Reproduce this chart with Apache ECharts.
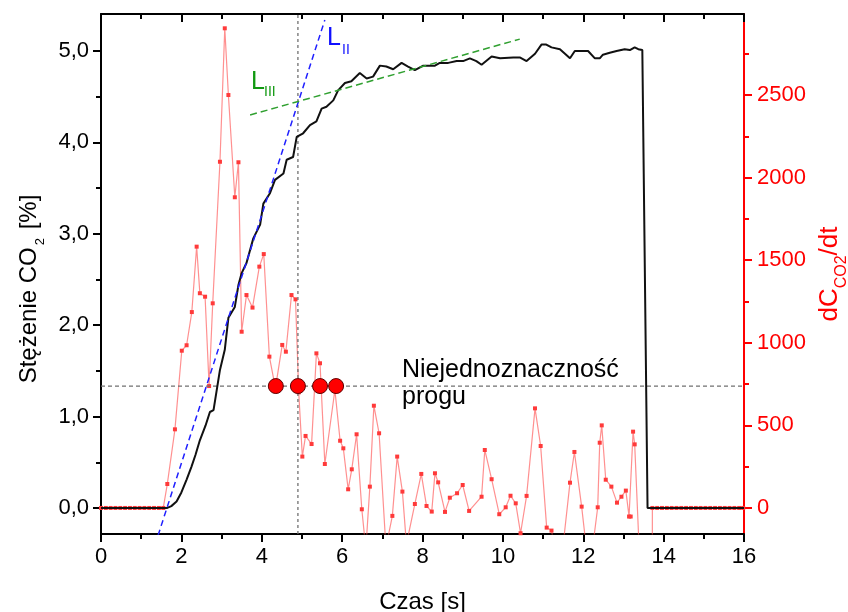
<!DOCTYPE html>
<html><head><meta charset="utf-8">
<script src="https://cdn.jsdelivr.net/npm/echarts@6/dist/echarts.min.js"></script>
<style>html,body{margin:0;padding:0;background:#fff}#c{width:848px;height:612px}</style>
</head><body><div id="c"></div>
<script>
// CO2 concentration [%] vs time [s]
const timeCO2 = [0, 1.65, 1.75, 1.88, 2.0, 2.13, 2.25, 2.35, 2.46, 2.6, 2.71, 2.8, 2.84, 2.96, 3.08, 3.17, 3.33, 3.42, 3.5, 3.62, 3.79, 3.96, 4.04, 4.2, 4.33, 4.54, 4.62, 4.78, 4.87, 5.03, 5.2, 5.36, 5.49, 5.61, 5.78, 5.9, 6.07, 6.23, 6.44, 6.61, 6.77, 6.94, 7.1, 7.27, 7.48, 7.64, 7.81, 8.02, 8.31, 8.43, 8.64, 8.85, 9.01, 9.18, 9.34, 9.47, 9.72, 9.93, 10.26, 10.42, 10.59, 10.8, 10.96, 11.08, 11.21, 11.42, 11.67, 11.79, 12.12, 12.29, 12.41, 12.49, 12.66, 12.83, 13.03, 13.16, 13.28, 13.37, 13.47, 13.6, 16];
const co2 = [0, 0, 0.02, 0.07, 0.17, 0.31, 0.45, 0.58, 0.74, 0.9, 1.05, 1.07, 1.18, 1.51, 1.73, 2.08, 2.2, 2.44, 2.57, 2.68, 2.95, 3.1, 3.33, 3.44, 3.59, 3.66, 3.81, 3.84, 4.06, 4.1, 4.19, 4.23, 4.37, 4.39, 4.46, 4.57, 4.65, 4.67, 4.76, 4.7, 4.72, 4.84, 4.83, 4.8, 4.87, 4.83, 4.79, 4.84, 4.84, 4.87, 4.87, 4.89, 4.89, 4.92, 4.89, 4.85, 4.94, 4.92, 4.93, 4.93, 4.89, 4.97, 5.07, 5.07, 5.04, 5.02, 4.92, 5.0, 5.0, 4.92, 4.92, 4.96, 4.98, 5.0, 5.02, 5.01, 5.04, 5.02, 5.01, 0, 0];

// dC/dt (right axis)
const timeRate = [0, 0.12, 0.24, 0.36, 0.48, 0.6, 0.72, 0.84, 0.96, 1.08, 1.2, 1.32, 1.44, 1.55, 1.65, 1.84, 2.01, 2.13, 2.26, 2.38, 2.46, 2.59, 2.69, 2.78, 2.96, 3.08, 3.17, 3.33, 3.42, 3.5, 3.62, 3.77, 3.94, 4.05, 4.19, 4.34, 4.51, 4.6, 4.74, 4.84, 4.92, 5.01, 5.09, 5.24, 5.36, 5.45, 5.57, 5.82, 5.95, 6.03, 6.15, 6.24, 6.36, 6.49, 6.59, 6.69, 6.79, 6.92, 7.09, 7.25, 7.37, 7.5, 7.6, 7.81, 7.97, 8.1, 8.23, 8.31, 8.39, 8.56, 8.68, 8.86, 9.0, 9.16, 9.47, 9.55, 9.72, 9.91, 10.07, 10.19, 10.32, 10.44, 10.59, 10.8, 10.94, 11.09, 11.21, 11.42, 11.67, 11.78, 11.96, 12.15, 12.36, 12.41, 12.46, 12.56, 12.7, 12.84, 12.95, 13.06, 13.14, 13.18, 13.24, 13.28, 13.4, 13.5, 13.6, 13.72, 13.84, 13.96, 14.08, 14.2, 14.32, 14.44, 14.56, 14.68, 14.8, 14.92, 15.04, 15.16, 15.28, 15.4, 15.52, 15.64, 15.76, 15.88, 15.98];
const rate = [0, 0, 0, 0, 0, 0, 0, 0, 0, 0, 0, 0, 0, 0, 145, 476, 952, 985, 1186, 1582, 1300, 1279, 738, 1239, 2096, 2904, 2500, 1881, 2093, 1067, 1289, 1213, 1461, 1537, 916, 725, 987, 946, 1289, 1263, 700, 311, 436, 387, 936, 876, 266, 714, 407, 361, 113, 234, 446, -8, -250, 129, 619, 452, -240, -48, 311, 99, -220, 24, 206, 12, -22, 210, 155, -24, 62, 89, 139, -18, 68, 351, 174, -38, 4, 74, 28, -153, 73, 603, 375, -119, -137, -400, 153, 339, 8, -400, 4, 395, 500, 171, 129, 32, 68, 105, -52, -52, 462, 385, -300, -3000, -40000, 0, 0, 0, 0, 0, 0, 0, 0, 0, 0, 0, 0, 0, 0, 0, 0, 0, 0, 0, 0, 0];

// fitted lines
const lineIIx = [1.42, 5.57];
const lineIIy = [-0.30, 5.34];
const lineIIIx = [3.71, 10.42];
const lineIIIy = [4.30, 5.13];

// threshold
const thresholdRate = 738;
const thresholdTime = 4.9;
const crossTimes = [4.35, 4.90, 5.45, 5.85];

// axes
const xMin = 0, xMax = 16;
const leftMin = -0.285, leftMax = 5.405;
const rightMin = -157.7, rightMax = 2990.6;
const leftTicks = [0, 1, 2, 3, 4, 5];
const leftMinor = [0.5, 1.5, 2.5, 3.5, 4.5];
const rightTicks = [0, 500, 1000, 1500, 2000, 2500];
const rightMinor = [250, 750, 1250, 1750, 2250, 2750];

const FONT = 'Arial, "Liberation Sans", sans-serif';
const zip = (a, b) => a.map((v, i) => [v, b[i]]);

const chart = echarts.init(document.getElementById('c'), null, {renderer: 'canvas'});
const RED = '#ff0000';
const gridBox = {left: 101, right: 104, top: 14, bottom: 78, containLabel: false, outerBoundsMode: 'none'};

chart.setOption({
  animation: false,
  backgroundColor: '#fff',
  textStyle: {fontFamily: FONT},
  grid: [Object.assign({}, gridBox), Object.assign({}, gridBox)],
  xAxis: [{
    gridIndex: 0, type: 'value', min: xMin, max: xMax, interval: 2, position: 'bottom',
    axisLine: {onZero: false, lineStyle: {color: '#000', width: 2}},
    axisTick: {length: 8, lineStyle: {color: '#000', width: 2}},
    minorTick: {show: true, splitNumber: 2, length: 5, lineStyle: {color: '#000', width: 2}},
    splitLine: {show: false}, minorSplitLine: {show: false},
    axisLabel: {color: '#000', fontSize: 22, margin: 12, fontFamily: FONT},
    name: 'Czas [s]', nameLocation: 'middle', nameGap: 56,
    nameTextStyle: {color: '#000', fontSize: 24, fontFamily: FONT}
  }, {
    gridIndex: 0, type: 'value', min: xMin, max: xMax, interval: 2, position: 'top',
    axisLine: {onZero: false, lineStyle: {color: '#000', width: 2}},
    axisTick: {inside: true, length: 8, lineStyle: {color: '#000', width: 2}},
    minorTick: {show: true, splitNumber: 2, length: 5, lineStyle: {color: '#000', width: 2}},
    splitLine: {show: false}, axisLabel: {show: false}
  }, {
    gridIndex: 1, type: 'value', min: xMin, max: xMax, show: false
  }],
  yAxis: [{
    gridIndex: 0, type: 'value', min: leftMin, max: leftMax, position: 'left',
    axisLine: {show: true, onZero: false, lineStyle: {color: '#000', width: 2}},
    axisTick: {show: true, customValues: leftTicks, length: 8, lineStyle: {color: '#000', width: 2}},
    axisLabel: {customValues: leftTicks, color: '#000', fontSize: 22, margin: 12, fontFamily: FONT,
      formatter: v => v.toFixed(1).replace('.', ',')},
    splitLine: {show: false},
    name: '{m|Stężenie CO}{s|2}{m| [%]}', nameLocation: 'middle', nameGap: 54, nameRotate: 90,
    nameTextStyle: {color: '#000', padding: [0, 30, 0, 0], rich: {
      m: {fontSize: 24, fontFamily: FONT, color: '#000', verticalAlign: 'bottom', padding: [0, 0, 6, 0]},
      s: {fontSize: 13, fontFamily: FONT, color: '#000', verticalAlign: 'bottom', padding: [0, 2, 0, 2]}
    }}
  }, {
    gridIndex: 0, type: 'value', min: rightMin, max: rightMax, position: 'right',
    axisLine: {show: true, onZero: false, lineStyle: {color: RED, width: 2}},
    axisTick: {show: true, customValues: rightTicks, length: 8, lineStyle: {color: RED, width: 2}},
    axisLabel: {customValues: rightTicks, color: RED, fontSize: 22, margin: 13, fontFamily: FONT,
      formatter: v => String(v)},
    splitLine: {show: false},
    name: '{m|dC}{s|CO2}{m|/dt}', nameLocation: 'middle', nameGap: 64, nameRotate: 90,
    nameTextStyle: {color: RED, rich: {
      m: {fontSize: 26, fontFamily: FONT, color: RED, verticalAlign: 'bottom', padding: [0, 0, 7, 0]},
      s: {fontSize: 16, fontFamily: FONT, color: RED, verticalAlign: 'bottom'}
    }}
  }, {
    gridIndex: 1, type: 'value', min: leftMin, max: leftMax, position: 'left',
    axisLine: {show: false, onZero: false},
    axisTick: {show: true, customValues: leftMinor, length: 5, lineStyle: {color: '#000', width: 2}},
    axisLabel: {show: false}, splitLine: {show: false}
  }, {
    gridIndex: 1, type: 'value', min: rightMin, max: rightMax, position: 'right',
    axisLine: {show: false, onZero: false},
    axisTick: {show: true, customValues: rightMinor, length: 5, lineStyle: {color: RED, width: 2}},
    axisLabel: {show: false}, splitLine: {show: false}
  }],
  series: [{
    name: 'dCdt', type: 'line', xAxisIndex: 0, yAxisIndex: 1,
    data: zip(timeRate, rate),
    symbol: 'rect', symbolSize: 4, showAllSymbol: true,
    lineStyle: {color: 'rgba(255,70,70,0.6)', width: 1.2},
    itemStyle: {color: '#ff3a3a'}, z: 2
  }, {
    name: 'threshold', type: 'line', xAxisIndex: 0, yAxisIndex: 1,
    data: [[xMin, thresholdRate], [xMax, thresholdRate]], symbol: 'none',
    lineStyle: {color: '#707070', width: 1.3, type: [4, 3]}, z: 3
  }, {
    name: 'vline', type: 'line', xAxisIndex: 0, yAxisIndex: 0,
    data: [[thresholdTime, leftMin], [thresholdTime, leftMax]], symbol: 'none',
    lineStyle: {color: '#707070', width: 1.3, type: [3, 3]}, z: 3
  }, {
    name: 'CO2', type: 'line', xAxisIndex: 0, yAxisIndex: 0,
    data: zip(timeCO2, co2), symbol: 'none',
    lineStyle: {color: '#111', width: 2}, z: 4
  }, {
    name: 'LII', type: 'line', xAxisIndex: 0, yAxisIndex: 0,
    data: zip(lineIIx, lineIIy), symbol: 'none',
    lineStyle: {color: '#2020ff', width: 1.5, type: [6, 4]}, z: 5
  }, {
    name: 'LIII', type: 'line', xAxisIndex: 0, yAxisIndex: 0,
    data: zip(lineIIIx, lineIIIy), symbol: 'none',
    lineStyle: {color: '#30a030', width: 1.5, type: [7, 4]}, z: 5
  }, {
    name: 'cross', type: 'scatter', xAxisIndex: 0, yAxisIndex: 1,
    data: crossTimes.map(t => [t, thresholdRate]),
    symbol: 'circle', symbolSize: 15,
    itemStyle: {color: '#ff0000', borderColor: '#600000', borderWidth: 1, opacity: 1}, z: 10
  }],
  graphic: [
    {type: 'text', left: 402, top: 358, style: {text: 'Niejednoznaczność', fill: '#000', font: '25px ' + FONT}},
    {type: 'text', left: 402, top: 385, style: {text: 'progu', fill: '#000', font: '25px ' + FONT}},
    {type: 'text', left: 327, top: 26, style: {text: 'L', fill: '#1010ff', font: '25px ' + FONT}},
    {type: 'text', left: 342, top: 43, style: {text: 'II', fill: '#1010ff', font: '14px ' + FONT}},
    {type: 'text', left: 251, top: 70, style: {text: 'L', fill: '#119911', font: '25px ' + FONT}},
    {type: 'text', left: 264, top: 85, style: {text: 'III', fill: '#119911', font: '14px ' + FONT}}
  ]
});
</script></body></html>
